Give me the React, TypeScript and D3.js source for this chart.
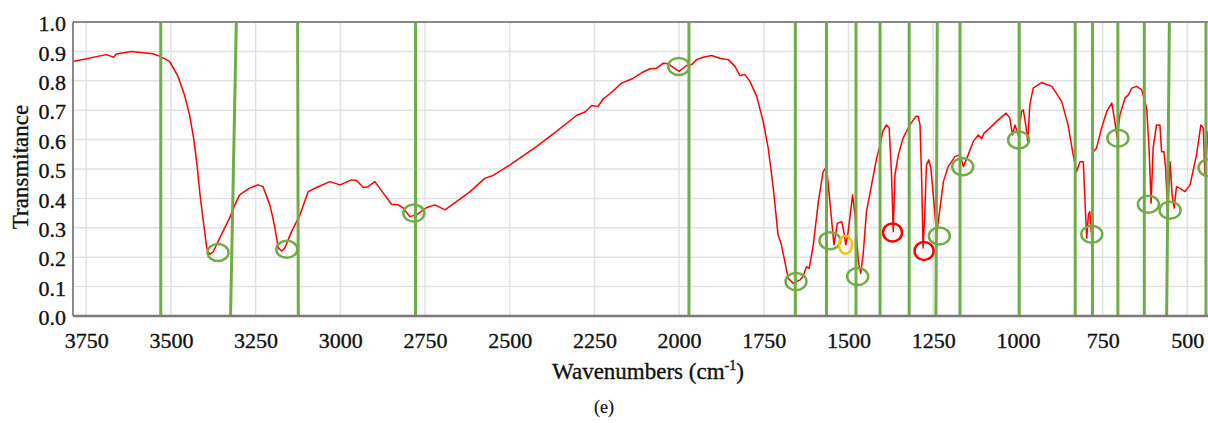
import React from "react";
import * as d3 from "d3";

// Spectrum: [wavenumber (cm-1), transmittance]
const spectrum: [number, number][] = [
  [3789, 0.866], [3691, 0.889], [3676, 0.883], [3669, 0.880], [3661, 0.891], [3617, 0.900],
  [3553, 0.892], [3532, 0.883], [3504, 0.866], [3479, 0.815], [3460, 0.752], [3445, 0.684],
  [3433, 0.605], [3423, 0.514], [3414, 0.412], [3403, 0.310], [3394, 0.231], [3386, 0.210],
  [3376, 0.217], [3356, 0.265], [3327, 0.333], [3307, 0.389], [3297, 0.412], [3268, 0.435],
  [3243, 0.446], [3228, 0.440], [3208, 0.378], [3199, 0.333], [3193, 0.299], [3183, 0.231],
  [3173, 0.221], [3164, 0.231], [3144, 0.287], [3119, 0.344], [3095, 0.423], [3070, 0.437],
  [3031, 0.457], [3001, 0.446], [2967, 0.463], [2952, 0.461], [2932, 0.437], [2918, 0.440],
  [2898, 0.457], [2873, 0.418], [2849, 0.380], [2829, 0.378], [2814, 0.367], [2795, 0.338],
  [2775, 0.344], [2745, 0.369], [2721, 0.378], [2691, 0.361], [2657, 0.389], [2617, 0.423],
  [2573, 0.469], [2549, 0.478], [2499, 0.514], [2421, 0.576], [2362, 0.628], [2303, 0.682],
  [2278, 0.694], [2258, 0.716], [2239, 0.713], [2224, 0.739], [2204, 0.756], [2170, 0.792],
  [2140, 0.806], [2106, 0.830], [2086, 0.841], [2066, 0.843], [2047, 0.860], [2032, 0.858],
  [2022, 0.849], [2000, 0.832], [1978, 0.852], [1963, 0.855], [1948, 0.872], [1929, 0.880],
  [1904, 0.886], [1880, 0.877], [1855, 0.872], [1835, 0.849], [1821, 0.818], [1806, 0.821],
  [1791, 0.798], [1771, 0.747], [1752, 0.662], [1737, 0.571], [1722, 0.435], [1708, 0.276],
  [1698, 0.242], [1688, 0.185], [1678, 0.128], [1663, 0.111], [1643, 0.123], [1634, 0.134],
  [1624, 0.168], [1616, 0.162], [1604, 0.242], [1589, 0.389], [1575, 0.491], [1565, 0.508],
  [1555, 0.389], [1543, 0.242], [1533, 0.316], [1520, 0.321], [1514, 0.287], [1508, 0.242],
  [1501, 0.287], [1488, 0.412], [1481, 0.344], [1471, 0.185], [1464, 0.145], [1457, 0.208],
  [1447, 0.355], [1432, 0.446], [1417, 0.537], [1407, 0.582], [1399, 0.628], [1388, 0.650],
  [1380, 0.639], [1373, 0.480], [1368, 0.287], [1363, 0.480], [1353, 0.548], [1339, 0.605],
  [1319, 0.650], [1301, 0.679], [1294, 0.679], [1289, 0.650], [1284, 0.457], [1280, 0.231],
  [1275, 0.344], [1270, 0.514], [1263, 0.531], [1257, 0.503], [1248, 0.389], [1240, 0.276],
  [1230, 0.367], [1220, 0.457], [1206, 0.508], [1186, 0.542], [1171, 0.548], [1161, 0.508],
  [1147, 0.548], [1132, 0.593], [1117, 0.616], [1107, 0.603], [1100, 0.622], [1083, 0.639],
  [1063, 0.662], [1035, 0.690], [1024, 0.673], [1016, 0.616], [1009, 0.650], [999, 0.616],
  [989, 0.696], [984, 0.701], [977, 0.650], [971, 0.593], [965, 0.718], [955, 0.775],
  [930, 0.794], [900, 0.781], [871, 0.730], [852, 0.650], [837, 0.548], [827, 0.491],
  [817, 0.525], [807, 0.525], [802, 0.389], [797, 0.265], [792, 0.344], [788, 0.355],
  [782, 0.265], [778, 0.559], [768, 0.571], [753, 0.639], [738, 0.696], [723, 0.724],
  [714, 0.662], [707, 0.605], [699, 0.684], [684, 0.741], [674, 0.752], [664, 0.775],
  [650, 0.781], [635, 0.770], [620, 0.707], [613, 0.571], [607, 0.384], [601, 0.571],
  [591, 0.650], [581, 0.650], [576, 0.559], [569, 0.559], [564, 0.503], [558, 0.344],
  [551, 0.525], [545, 0.412], [539, 0.367], [532, 0.440], [522, 0.435], [507, 0.423],
  [492, 0.446], [473, 0.548], [460, 0.650], [453, 0.639], [448, 0.480], [439, 0.628],
];

// Assigned band marker lines (wavenumber at top and bottom of the plot)
const markerTop = [3530, 3307, 3126, 2778, 1971, 1657, 1565, 1478, 1407, 1321, 1238, 1171, 996, 831, 780, 705, 627, 553, 445];
const markerBottom = [3530, 3324, 3124, 2778, 1971, 1657, 1565, 1478, 1407, 1321, 1242, 1171, 996, 831, 780, 705, 627, 561, 445];

// Highlighted peaks
const circleW = [3361, 3158, 2783, 2001, 1655, 1555, 1509, 1473, 1370, 1277, 1232, 1163, 998, 782, 705, 615, 551, 436];
const circleT = [0.216, 0.227, 0.350, 0.849, 0.117, 0.256, 0.242, 0.134, 0.284, 0.221, 0.272, 0.508, 0.599, 0.278, 0.605, 0.380, 0.360, 0.504];
const circleKind = ["g", "g", "g", "g", "g", "g", "o", "g", "r", "r", "g", "g", "g", "g", "g", "g", "g", "g"];

const xTicks = [3750, 3500, 3250, 3000, 2750, 2500, 2250, 2000, 1750, 1500, 1250, 1000, 750, 500];
const yTicks = [0, 0.1, 0.2, 0.3, 0.4, 0.5, 0.6, 0.7, 0.8, 0.9, 1.0];

const W = 1208;
const H = 423;
const left = 73;
const right = 1208;
const top = 22;
const bottom = 316;

const FONT = '"Liberation Serif"';
const GREEN = "#70ad47";

const circleStyle: Record<string, { stroke: string; rx: number; ry: number }> = {
  g: { stroke: GREEN, rx: 10.5, ry: 8.5 },
  r: { stroke: "#ff0000", rx: 9.5, ry: 9 },
  o: { stroke: "#ffc000", rx: 6.5, ry: 9 },
};

const textStyle = { fontFamily: FONT };
const TEXT_FILL = "#111";

export default function App() {
  const x = d3.scaleLinear().domain([3789, 439]).range([left, right]);
  const y = d3.scaleLinear().domain([0, 1]).range([bottom, top]);
  const line = d3
    .line<[number, number]>()
    .x((d) => x(d[0]))
    .y((d) => y(d[1]))
    .curve(d3.curveLinear);

  return (
    <svg
      width={W}
      height={H}
      style={{ position: "absolute", left: 0, top: 0, background: "#fff" }}
    >
      <defs>
        <clipPath id="plot">
          <rect x={left} y={top - 4} width={right - left + 10} height={bottom - top + 4} />
        </clipPath>
      </defs>
      {/* grid */}
      {yTicks.map((t) => (
        <line key={"hy" + t} x1={left} x2={right} y1={y(t)} y2={y(t)} stroke="#e2e2e2" strokeWidth={1.5} />
      ))}
      {xTicks.map((t) => (
        <line key={"vx" + t} x1={x(t)} x2={x(t)} y1={top} y2={bottom} stroke="#e2e2e2" strokeWidth={1.5} />
      ))}
      <g clipPath="url(#plot)">
        <path d={line(spectrum) || ""} fill="none" stroke="#ff0000" strokeWidth={1.5} strokeLinejoin="round" />
        {markerTop.map((w, i) => (
          <line
            key={"m" + i}
            x1={x(w)}
            x2={x(markerBottom[i])}
            y1={y(1)}
            y2={y(0)}
            stroke={GREEN}
            strokeWidth={3}
          />
        ))}
        {circleW.map((w, i) => {
          const s = circleStyle[circleKind[i]];
          return (
            <ellipse
              key={"c" + i}
              cx={x(w)}
              cy={y(circleT[i])}
              rx={s.rx}
              ry={s.ry}
              fill="none"
              stroke={s.stroke}
              strokeWidth={2.5}
            />
          );
        })}
      </g>
      {/* frame */}
      <line x1={left} x2={right + 2} y1={top} y2={top} stroke="#8a8a8a" strokeWidth={2} />
      <line x1={left} x2={right + 2} y1={bottom} y2={bottom} stroke="#7a7a7a" strokeWidth={2.5} />
      <line x1={left} x2={left} y1={top} y2={bottom} stroke="#8a8a8a" strokeWidth={2} />
      <g fill={TEXT_FILL} stroke={TEXT_FILL} strokeWidth={0.35} style={textStyle}>
        {/* y ticks */}
        {yTicks.map((t) => (
          <text key={"yl" + t} x={66} y={y(t) + 1.5} dy="0.35em" textAnchor="end" fontSize={22} style={textStyle}>
            {t.toFixed(1)}
          </text>
        ))}
        {/* x ticks */}
        {xTicks.map((t) => (
          <text key={"xl" + t} x={x(t) + 0.5} y={348} textAnchor="middle" fontSize={22} style={textStyle}>
            {t}
          </text>
        ))}
        <text transform="translate(28,167) rotate(-90)" textAnchor="middle" fontSize={23} style={textStyle}>
          Transmitance
        </text>
        <text x={648} y={379} textAnchor="middle" fontSize={23} style={textStyle}>
          Wavenumbers (cm
          <tspan fontSize={14} dy={-9}>-1</tspan>
          <tspan dy={9}>)</tspan>
        </text>
        <text x={604} y={413} textAnchor="middle" fontSize={18} strokeWidth={0.2} style={textStyle}>
          (e)
        </text>
      </g>
    </svg>
  );
}
